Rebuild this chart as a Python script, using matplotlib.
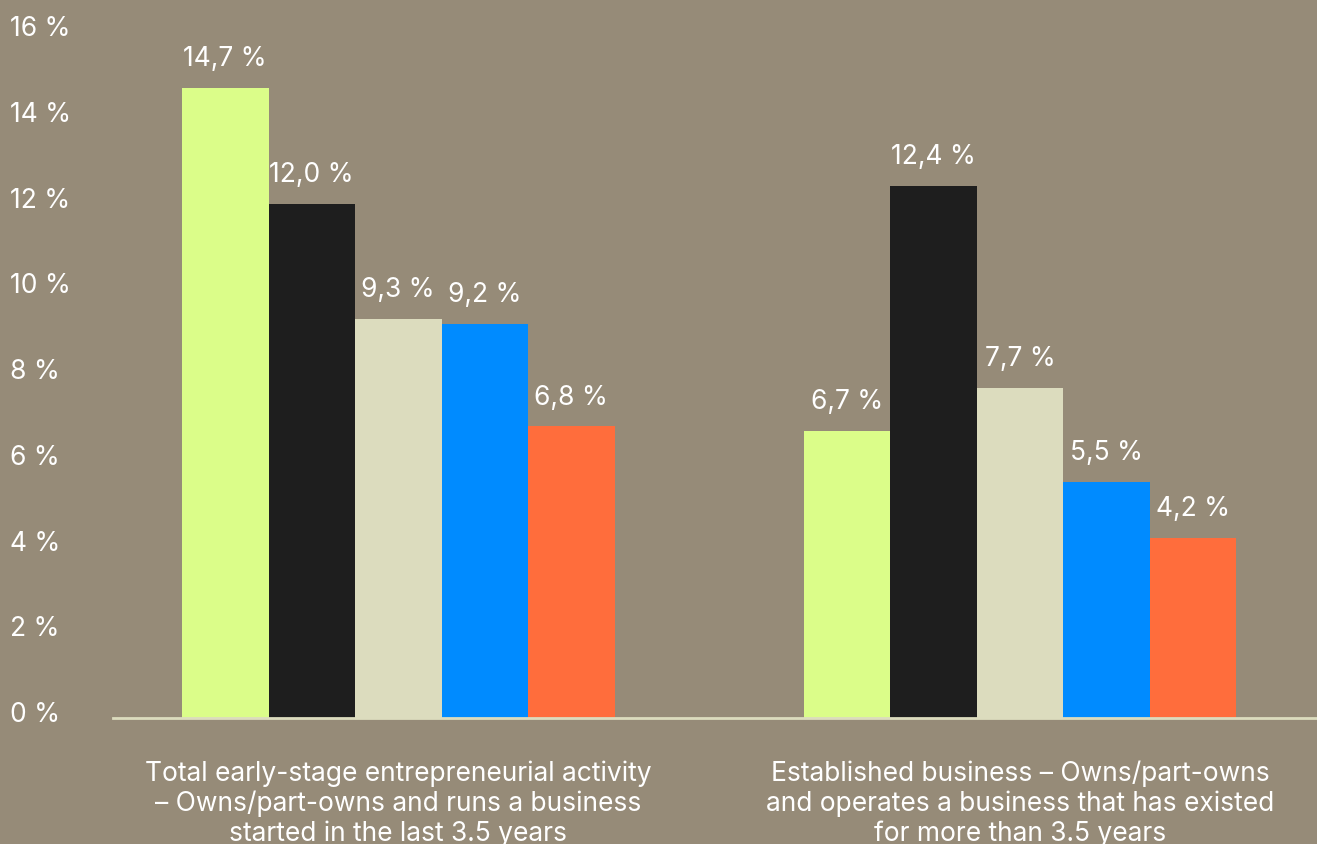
import matplotlib
matplotlib.use("Agg")
import matplotlib.pyplot as plt
import matplotlib.transforms as mtransforms
import numpy as np

plt.rcParams["font.family"] = ["Inter", "DejaVu Sans"]

categories = [
    "Total early-stage entrepreneurial activity\n\u2013 Owns/part-owns and runs a business\nstarted in the last 3.5 years",
    "Established business \u2013 Owns/part-owns\nand operates a business that has existed\nfor more than 3.5 years",
]
series_1 = [14.7, 6.7]
series_2 = [12.0, 12.4]
series_3 = [9.3, 7.7]
series_4 = [9.2, 5.5]
series_5 = [6.8, 4.2]
y_ticks = [0, 2, 4, 6, 8, 10, 12, 14, 16]

all_series = [series_1, series_2, series_3, series_4, series_5]
colors = ["#dbfd89", "#1e1e1e", "#dcdcbe", "#008bff", "#ff6d3c"]
bg = "#968b78"

W, H = 1317, 845
fig = plt.figure(figsize=(W / 100, H / 100), dpi=100, facecolor=bg)
ax = fig.add_axes([113 / W, 1 - 719 / H, (W - 113) / W, (719 - 33) / H])
ax.set_facecolor(bg)

x = np.arange(len(categories))
width = 0.1392
n = len(all_series)
for i, (vals, c) in enumerate(zip(all_series, colors)):
    pos = x + (i - (n - 1) / 2) * width
    bars = ax.bar(pos, vals, width=width, color=c, zorder=2)
    for b, v in zip(bars, vals):
        ax.annotate(f"{v:.1f} %".replace(".", ","),
                    (b.get_x() + b.get_width() / 2, v),
                    xytext=(0, 21.5), textcoords="offset points",
                    ha="center", va="center", color="white", fontsize=19)

ax.set_xlim(-0.459, 1.478)
ax.set_ylim(0, 16)
ax.set_yticks(y_ticks)
ax.set_yticklabels([f"{t} %" for t in y_ticks], color="white", fontsize=19)
ax.set_xticks(x)
ax.set_xticklabels(categories, color="white", fontsize=19, linespacing=1.17)
ax.tick_params(axis="both", length=0)
ax.tick_params(axis="y", pad=74)
ax.tick_params(axis="x", pad=30)
shift = mtransforms.ScaledTranslation(0, 5 / 72, fig.dpi_scale_trans)
for lbl in ax.get_yticklabels():
    lbl.set_horizontalalignment("left")
    lbl.set_transform(lbl.get_transform() + shift)
for s in ["top", "right", "left"]:
    ax.spines[s].set_visible(False)
ax.spines["bottom"].set_color("#dcdcbe")
ax.spines["bottom"].set_linewidth(2)
ax.spines["bottom"].set_zorder(3)

fig.savefig("out.png", dpi=100, facecolor=bg)
